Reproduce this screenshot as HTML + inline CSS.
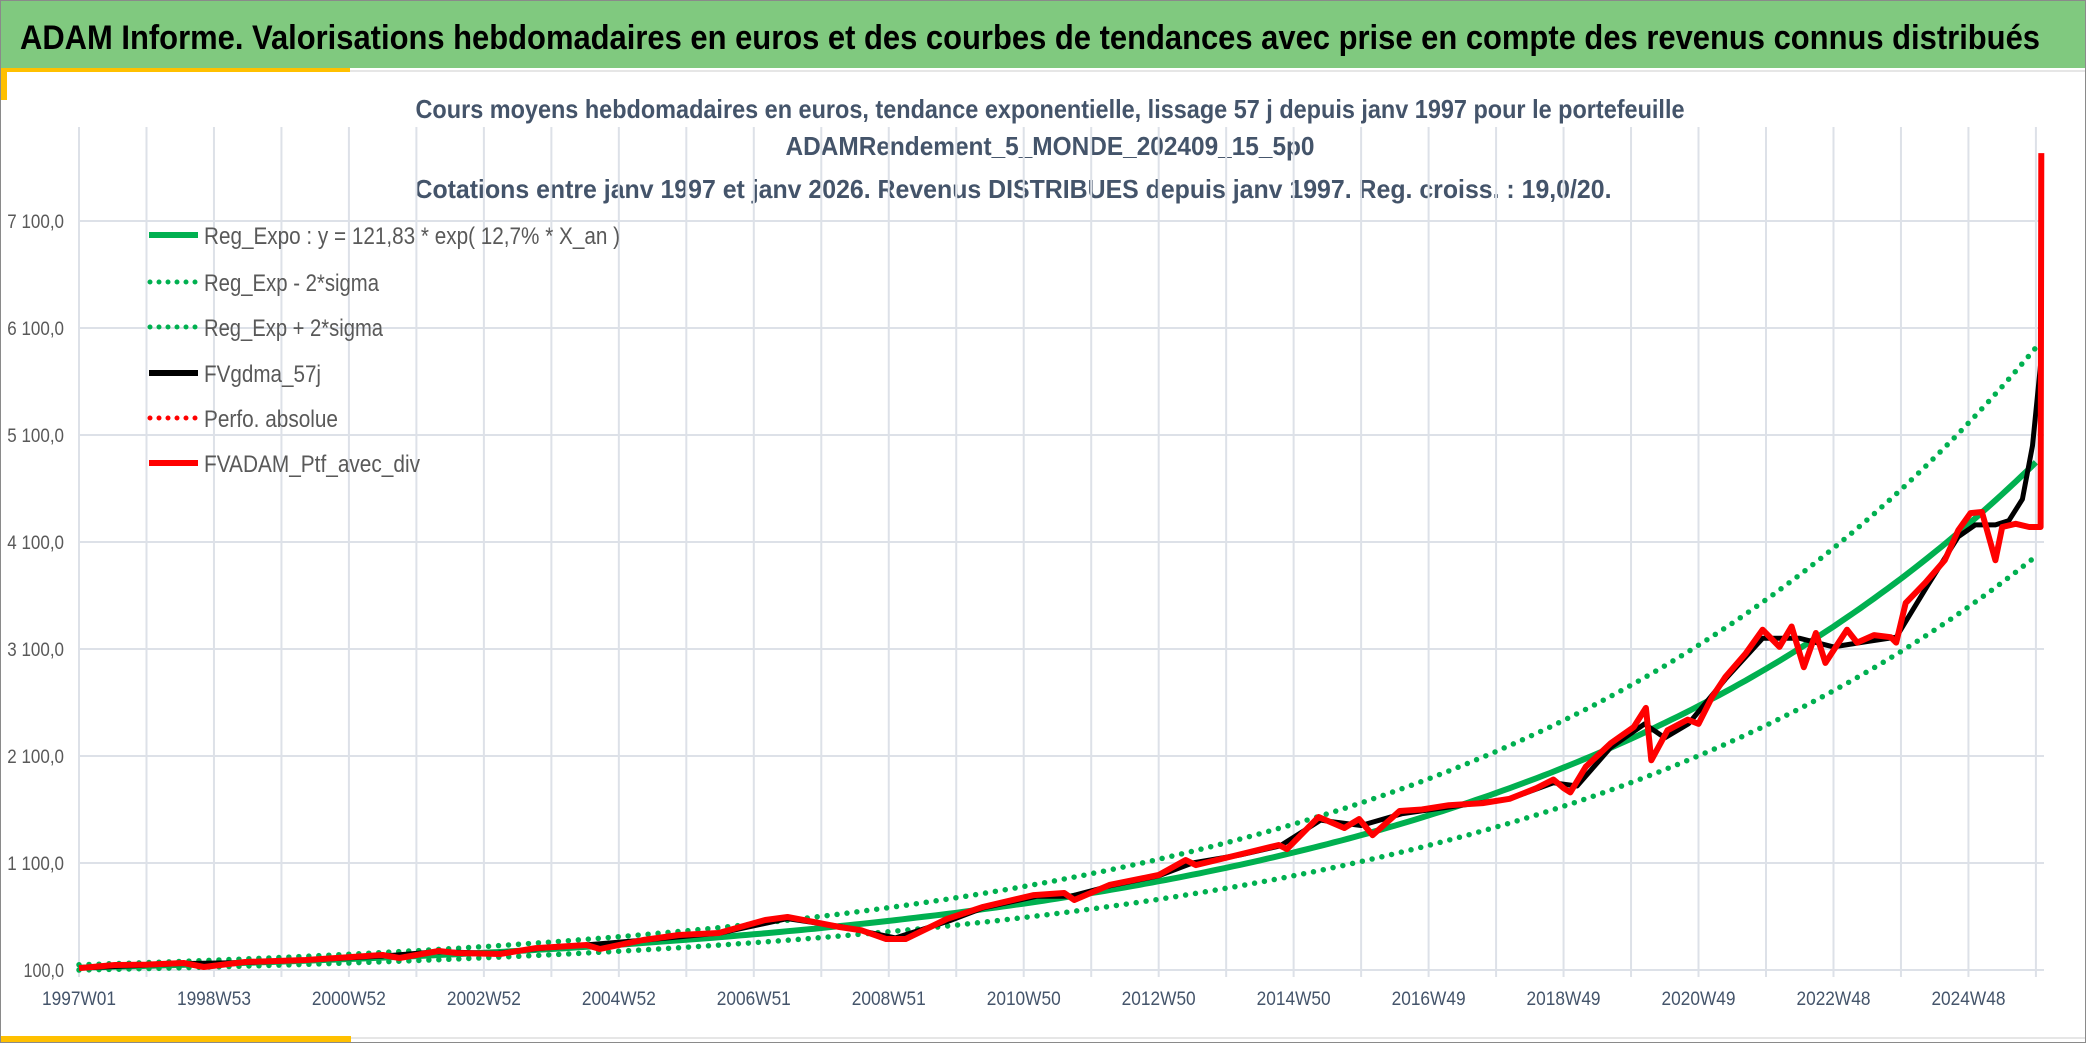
<!DOCTYPE html>
<html><head><meta charset="utf-8"><style>
html,body{margin:0;padding:0;background:#fff;}
svg{display:block;font-family:"Liberation Sans",sans-serif;}
</style></head><body>
<svg id="chart" width="2086" height="1043" viewBox="0 0 2086 1043" xmlns="http://www.w3.org/2000/svg">
<rect x="0" y="0" width="2086" height="1043" fill="#fff" stroke="#8a8a8a" stroke-width="2"/>
<rect x="1" y="1" width="2084" height="67" fill="#80c97f"/>
<text x="20" y="49" font-size="34" font-weight="bold" fill="#000" textLength="2020" lengthAdjust="spacingAndGlyphs">ADAM Informe. Valorisations hebdomadaires en euros et des courbes de tendances avec prise en compte des revenus connus distribués</text>
<rect x="1" y="68" width="349" height="4" fill="#ffc000"/>
<rect x="1" y="68" width="6" height="32" fill="#ffc000"/>
<line x1="350" y1="71" x2="2085" y2="71" stroke="#e6e6e6" stroke-width="2"/>
<rect x="1" y="1036" width="350" height="6" fill="#ffc000"/>
<line x1="351" y1="1038" x2="2085" y2="1038" stroke="#e6e6e6" stroke-width="2"/>
<g font-weight="bold" fill="#44546a" font-size="26" text-anchor="middle">
<text x="1050" y="118" textLength="1269" lengthAdjust="spacingAndGlyphs">Cours moyens hebdomadaires en euros, tendance exponentielle, lissage 57 j depuis janv 1997 pour le portefeuille</text>
<text x="1050" y="155" textLength="529" lengthAdjust="spacingAndGlyphs">ADAMRendement_5_MONDE_202409_15_5p0</text>
<text x="1013" y="198" textLength="1197" lengthAdjust="spacingAndGlyphs">Cotations entre janv 1997 et janv 2026. Revenus DISTRIBUES depuis janv 1997. Reg. croiss. : 19,0/20.</text>
</g>
<g id="grid"></g>
<g id="axes"></g>
<g id="series"></g>
<g id="legend"></g>
</svg>
<script>
const yTicks = [100, 1100, 2100, 3100, 4100, 5100, 6100, 7100];
const yTickLabels = ["100,0","1 100,0","2 100,0","3 100,0","4 100,0","5 100,0","6 100,0","7 100,0"];
const xTickLabels = ["1997W01","1998W53","2000W52","2002W52","2004W52","2006W51","2008W51","2010W50","2012W50","2014W50","2016W49","2018W49","2020W49","2022W48","2024W48"];
const xTickYears = [0,2,4,6,8,10,12,14,16,18,20,22,24,26,28];
const regA = [121.83];
const regRate = [0.127];
const sigmaFactor = [1.2214];
const redT = [0,0.53,1.0,1.55,1.85,2.46,3.36,4.5,4.75,5.33,5.6,6.24,6.77,7.52,7.72,8.36,8.89,9.48,10.17,10.5,10.8,11.27,11.6,11.96,12.25,12.86,13.4,14.15,14.6,14.75,15.27,16.0,16.4,16.55,17.17,17.78,17.9,18.37,18.75,18.97,19.17,19.57,19.9,20.3,20.8,21.2,21.6,21.85,22.0,22.1,22.33,22.7,23.04,23.22,23.3,23.54,23.84,24.0,24.2,24.4,24.7,24.95,25.2,25.38,25.56,25.74,25.88,26.2,26.35,26.6,26.85,26.93,27.07,27.36,27.65,27.85,28.03,28.2,28.4,28.5,28.7,28.9,29.07,29.08];
const redV = [118,147,150,165,128,175,193,240,212,278,259,250,305,334,296,380,427,446,567,595,560,502,470,390,390,577,690,800,820,754,894,988,1128,1080,1175,1268,1230,1530,1427,1510,1360,1586,1600,1640,1660,1700,1800,1880,1800,1760,2000,2220,2370,2550,2060,2340,2440,2400,2650,2840,3060,3280,3120,3310,2930,3250,2970,3280,3160,3230,3210,3160,3530,3720,3930,4210,4370,4380,3930,4240,4270,4240,4240,7735];
const blackT = [0,1.5,2.5,3.4,4.5,5.3,6.2,6.8,7.5,8.4,9.5,10.5,11.3,12.1,12.9,13.4,14.2,14.7,15.3,16.0,16.5,17.2,17.8,18.4,19.0,19.6,20.5,21.2,21.85,22.2,22.7,23.2,23.5,23.85,24.4,24.95,25.5,26.0,26.5,26.93,27.4,27.85,28.1,28.4,28.6,28.8,28.95,29.07];
const blackV = [118,160,170,193,230,270,255,300,334,380,446,580,505,400,560,680,790,790,890,980,1100,1175,1260,1500,1450,1560,1640,1700,1850,1820,2180,2400,2270,2400,2820,3200,3200,3120,3170,3210,3700,4150,4260,4260,4300,4500,5000,5760];

const NS = "http://www.w3.org/2000/svg";
const X0 = 79, PXY = 67.48, Y100 = 970, PXV = 0.107;
function xs(t){ return X0 + t * PXY; }
function ys(v){ return Y100 - (v - 100) * PXV; }
function mk(tag, attrs, parent){ const e = document.createElementNS(NS, tag); for (const k in attrs) e.setAttribute(k, attrs[k]); parent.appendChild(e); return e; }

const grid = document.getElementById('grid');
for (let i = 0; i <= 29; i++) {
  const l = mk('line', {x1: xs(i), x2: xs(i), y1: 127, y2: 977, stroke: '#dde1e8', 'stroke-width': 2}, grid);
  
  
}
yTicks.forEach((v) => {
  const l = mk('line', {x1: X0, x2: 2044, y1: ys(v), y2: ys(v), stroke: '#dde1e8', 'stroke-width': 2}, grid);
  
  
});
const axes = document.getElementById('axes');
yTicks.forEach((v, i) => {
  const t = mk('text', {x: 64, y: ys(v) + 7, 'font-size': 19, fill: '#595959', 'text-anchor': 'end', textLength: yTickLabels[i].length * 8.1, lengthAdjust: 'spacingAndGlyphs'}, axes);
  t.textContent = yTickLabels[i];
  
  
});
xTickLabels.forEach((s, i) => {
  const t = mk('text', {x: xs(xTickYears[i]), y: 1005, 'font-size': 19, fill: '#44546a', 'text-anchor': 'middle', textLength: 74, lengthAdjust: 'spacingAndGlyphs'}, axes);
  t.textContent = s;
  
  
});

const series = document.getElementById('series');
function pathFrom(ts, vs){ return ts.map((t, i) => (i ? 'L' : 'M') + xs(t).toFixed(1) + ' ' + ys(vs[i]).toFixed(1)).join(' '); }
function regPath(f){ const pts = []; for (let t = 0; t <= 29.08; t += 0.1) pts.push([t, regA[0] * Math.exp(regRate[0] * t) * f]); return pts.map((p, i) => (i ? 'L' : 'M') + xs(p[0]).toFixed(1) + ' ' + ys(p[1]).toFixed(1)).join(' '); }
const up = mk('path', {d: regPath(sigmaFactor[0]), fill: 'none', stroke: '#00b050', 'stroke-width': 5.5, 'stroke-dasharray': '0 10', 'stroke-linecap': 'round'}, series);


const lo = mk('path', {d: regPath(1 / sigmaFactor[0]), fill: 'none', stroke: '#00b050', 'stroke-width': 5.5, 'stroke-dasharray': '0 10', 'stroke-linecap': 'round'}, series);


const rg = mk('path', {d: regPath(1), fill: 'none', stroke: '#00b050', 'stroke-width': 6}, series);


const bl = mk('path', {d: pathFrom(blackT, blackV), fill: 'none', stroke: '#000', 'stroke-width': 5, 'stroke-linejoin': 'round'}, series);


const rd = mk('path', {d: pathFrom(redT, redV), fill: 'none', stroke: '#ff0000', 'stroke-width': 6, 'stroke-linejoin': 'round'}, series);



const legend = document.getElementById('legend');
const legItems = [
  ['Reg_Expo : y = 121,83 * exp( 12,7% *  X_an )', '#00b050', false, 416, 'legend-reg-expo'],
  ['Reg_Exp - 2*sigma', '#00b050', true, 175, 'legend-reg-minus'],
  ['Reg_Exp + 2*sigma', '#00b050', true, 179, 'legend-reg-plus'],
  ['FVgdma_57j', '#000', false, 117, 'legend-fvgdma'],
  ['Perfo. absolue', '#ff0000', true, 134, 'legend-perfo'],
  ['FVADAM_Ptf_avec_div', '#ff0000', false, 216, 'legend-fvadam']
];
const legY = [235, 282, 327, 373, 418, 463];
legItems.forEach((it, i) => {
  const g = mk('g', {}, legend);
  
  
  const a = {x1: 149, x2: 198, y1: legY[i], y2: legY[i], stroke: it[1], 'stroke-width': 6};
  if (it[2]) { a['stroke-dasharray'] = '0 9'; a['stroke-linecap'] = 'round'; a.x1 = 150; a['stroke-width'] = 5; }
  const l = mk('line', a, g);
  
  
  const t = mk('text', {x: 204, y: legY[i] + 9, 'font-size': 24, fill: '#595959', textLength: it[3], lengthAdjust: 'spacingAndGlyphs'}, g);
  t.textContent = it[0];
  
  
});
</script>
</body></html>
